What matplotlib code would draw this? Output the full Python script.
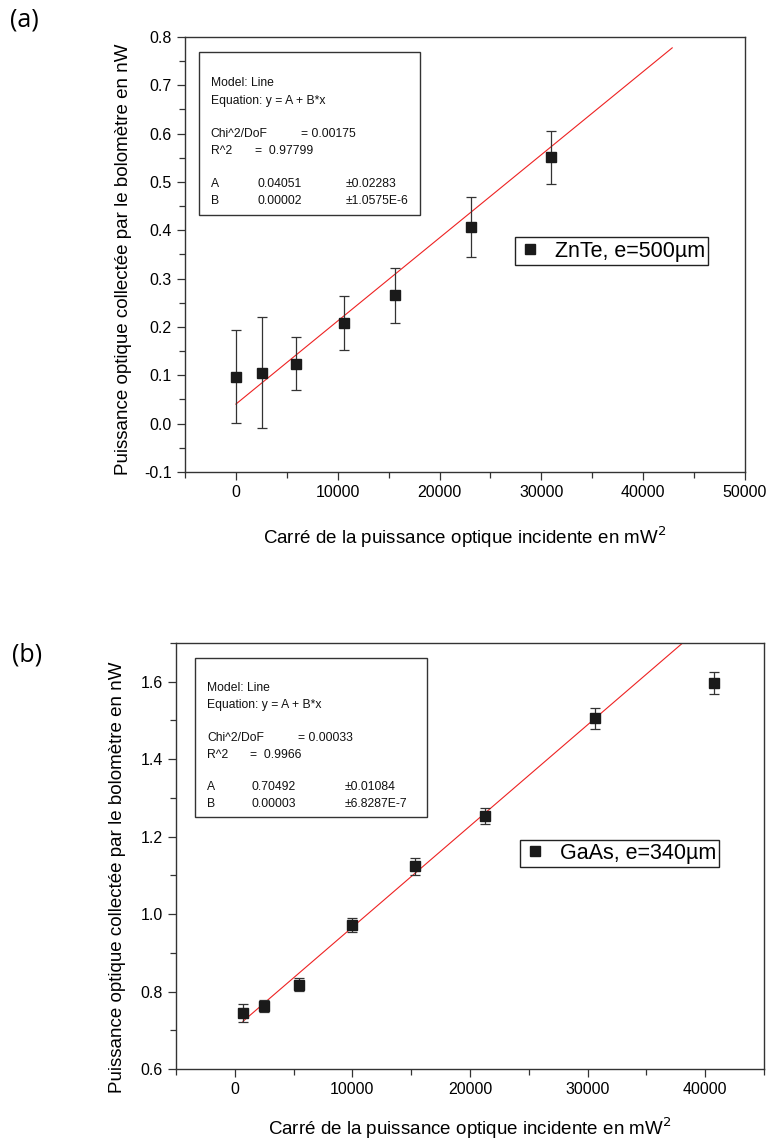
import matplotlib
matplotlib.use("Agg")
import matplotlib.pyplot as plt
from matplotlib.patches import Rectangle
from matplotlib.ticker import MultipleLocator
import numpy as np

plt.rcParams['font.family'] = ['Liberation Sans', 'DejaVu Sans']

# (a) ZnTe, e=500um
x_a = [0, 2550, 5950, 10610, 15640, 23100, 30980]
y_a = [0.097, 0.105, 0.124, 0.208, 0.266, 0.407, 0.551]
err_a = [0.096, 0.115, 0.055, 0.056, 0.057, 0.062, 0.055]
fit_a = (0.04051, 1.72e-5)      # intercept, slope as drawn
fit_xrange_a = [0, 42850]
stats_a = ["0.00175", "0.97799", ("0.04051", "±0.02283"), ("0.00002", "±1.0575E-6")]
label_a = "ZnTe, e=500µm"

# (b) GaAs, e=340um
x_b = [690, 2500, 5470, 9980, 15350, 21280, 30600, 40760]
y_b = [0.744, 0.763, 0.818, 0.973, 1.123, 1.254, 1.506, 1.597]
err_b = [0.023, 0.015, 0.017, 0.018, 0.022, 0.021, 0.027, 0.029]
fit_b = (0.70492, 2.613e-5)
fit_xrange_b = [690, 40760]
stats_b = ["0.00033", "0.9966", ("0.70492", "±0.01084"), ("0.00003", "±6.8287E-7")]
label_b = "GaAs, e=340µm"

ylabel = "Puissance optique collectée par le bolomètre en nW"
xlabel = "Carré de la puissance optique incidente en mW$^2$"

fig = plt.figure(figsize=(7.7, 11.44), dpi=100)
W, H = 770, 1144


def px_axes(left, top, right, bottom):
    return [left / W, 1 - bottom / H, (right - left) / W, (bottom - top) / H]


def stats_box(ax, box, stats):
    x0, y0, x1, y1 = box
    ax.add_patch(Rectangle((x0, y0), x1 - x0, y1 - y0, transform=ax.transAxes,
                           fill=False, edgecolor='#333333', lw=1.0, zorder=5))
    tx = x0 + 0.021
    kw = dict(transform=ax.transAxes, fontsize=8.7, va='center', ha='left', color='#111111', zorder=6)
    ax.text(tx, 0.894, "Model: Line", **kw)
    ax.text(tx, 0.854, "Equation: y = A + B*x", **kw)
    ax.text(tx, 0.778, "Chi^2/DoF", **kw)
    ax.text(0.207, 0.778, "= " + stats[0], **kw)
    ax.text(tx, 0.738, "R^2", **kw)
    ax.text(0.125, 0.738, "=  " + stats[1], **kw)
    ax.text(tx, 0.662, "A", **kw)
    ax.text(0.129, 0.662, stats[2][0], **kw)
    ax.text(0.286, 0.662, stats[2][1], **kw)
    ax.text(tx, 0.623, "B", **kw)
    ax.text(0.129, 0.623, stats[3][0], **kw)
    ax.text(0.286, 0.623, stats[3][1], **kw)


def panel(ax, x, y, err, fit, fit_xr, stats, label, box, leg_pos):
    xf = np.array(fit_xr)
    ax.plot(xf, fit[0] + fit[1] * xf, color='#ee2222', lw=0.8, zorder=2)
    ax.errorbar(x, y, yerr=err, fmt='none', ecolor='#333333', elinewidth=0.9,
                capsize=3.5, capthick=0.9, zorder=3)
    h, = ax.plot(x, y, 's', color='#1a1a1a', markersize=6.5, zorder=4, label=label)
    stats_box(ax, box, stats)
    leg = ax.legend(handles=[h], loc='center', bbox_to_anchor=leg_pos, fontsize=15.5,
                    frameon=True, fancybox=False, edgecolor='#222222', framealpha=1,
                    handlelength=1.1, handletextpad=0.6, borderpad=0.15, borderaxespad=0)
    leg.get_frame().set_linewidth(1.0)
    for s in ax.spines.values():
        s.set_color('#333333')
        s.set_linewidth(1.0)
    ax.tick_params(which='major', direction='out', length=6, width=0.9, labelsize=11.5, color='#333333')
    ax.tick_params(which='minor', direction='out', length=4, width=0.9, color='#333333')
    ax.xaxis.set_major_locator(MultipleLocator(10000))
    ax.xaxis.set_minor_locator(MultipleLocator(5000))
    ax.set_ylabel(ylabel, fontsize=13.5)
    ax.set_xlabel(xlabel, fontsize=13.5)


ax_a = fig.add_axes(px_axes(185, 37, 745, 472))
ax_a.set_xlim(-5000, 50000)
ax_a.set_ylim(-0.1, 0.8)
ax_a.yaxis.set_major_locator(MultipleLocator(0.1))
ax_a.yaxis.set_minor_locator(MultipleLocator(0.05))
ax_a.yaxis.set_major_formatter(plt.FormatStrFormatter('%.1f'))
panel(ax_a, x_a, y_a, err_a, fit_a, fit_xrange_a, stats_a, label_a,
      (0.025, 0.591, 0.4196, 0.9655), (0.762, 0.508))
ax_a.yaxis.set_label_coords(-0.095, 0.49)
ax_a.xaxis.set_label_coords(0.5, -0.12)

ax_b = fig.add_axes(px_axes(176, 643, 764, 1069))
ax_b.set_xlim(-5000, 45000)
ax_b.set_ylim(0.6, 1.7)
ax_b.yaxis.set_major_locator(MultipleLocator(0.2))
ax_b.yaxis.set_minor_locator(MultipleLocator(0.1))
ax_b.yaxis.set_major_formatter(plt.FormatStrFormatter('%.1f'))
panel(ax_b, x_b, y_b, err_b, fit_b, fit_xrange_b, stats_b, label_b,
      (0.032, 0.592, 0.427, 0.965), (0.754, 0.506))
ax_b.yaxis.set_label_coords(-0.085, 0.45)
ax_b.xaxis.set_label_coords(0.5, -0.108)

fig.text(10 / W, 1 - 20 / H, "(a)", fontsize=18, family=['Open Sans', 'DejaVu Sans'], va='center', ha='left')
fig.text(12 / W, 1 - 655 / H, "(b)", fontsize=18, family=['Open Sans', 'DejaVu Sans'], va='center', ha='left')

fig.savefig("out.png", dpi=100)
